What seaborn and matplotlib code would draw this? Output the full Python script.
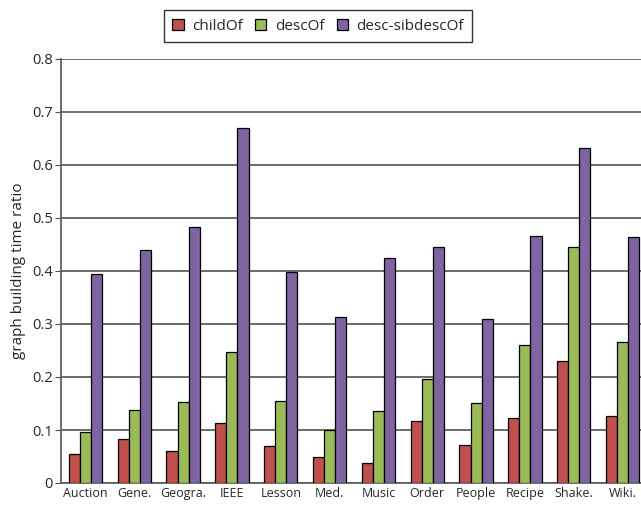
import pandas as pd
import matplotlib
matplotlib.use('Agg')
import matplotlib.pyplot as plt
import seaborn as sns
import numpy as np
from matplotlib.ticker import FixedLocator

# Dados
datasets = ['Auction', 'Gene.', 'Geogra.', 'IEEE', 'Lesson', 'Med.',
            'Music', 'Order', 'People', 'Recipe', 'Shake.', 'Wiki.']
child_of = [0.055, 0.083, 0.060, 0.113, 0.070, 0.049,
            0.038, 0.117, 0.072, 0.122, 0.230, 0.126]
desc_of = [0.096, 0.138, 0.153, 0.247, 0.155, 0.100,
           0.136, 0.196, 0.151, 0.260, 0.445, 0.266]
desc_sib = [0.394, 0.440, 0.483, 0.670, 0.398, 0.313,
            0.424, 0.445, 0.309, 0.466, 0.632, 0.464]
series = ['childOf', 'descOf', 'desc-sibdescOf']
cores = ['#C0504D', '#9BBB59', '#8064A2']

df = pd.DataFrame({
    'dataset': datasets * 3,
    'serie': np.repeat(series, len(datasets)),
    'ratio': child_of + desc_of + desc_sib,
})

sns.set_style('white')
plt.rcParams['font.family'] = ['Open Sans', 'DejaVu Sans']

fig = plt.figure(figsize=(6.41, 5.07), dpi=100)
ax = fig.add_axes([61 / 641, 24 / 507, 586 / 641, 424 / 507])

sns.barplot(data=df, x='dataset', y='ratio', hue='serie', order=datasets,
            hue_order=series, palette=cores, width=0.68, dodge=True,
            edgecolor='black', linewidth=0.9, saturation=1, ax=ax, zorder=3)

ax.set_ylim(0, 0.8)
ax.set_xlim(-0.5, len(datasets) - 0.5)
ax.set_yticks(np.arange(0, 0.81, 0.1))
ax.set_yticklabels(['0'] + ['%.1f' % v for v in np.arange(0.1, 0.81, 0.1)])
ax.yaxis.grid(True, color='#606060', linewidth=1.3, zorder=0)
ax.set_axisbelow(True)

# marcas entre grupos no eixo x
ax.xaxis.set_minor_locator(FixedLocator(np.arange(-0.5, len(datasets), 1)))
ax.tick_params(axis='x', which='minor', length=4, color='#505050', direction='out')
ax.tick_params(axis='x', which='major', length=0, labelsize=9, pad=3)
ax.tick_params(axis='y', length=4, color='#505050', direction='out', labelsize=10.5, pad=2, left=True)

for s in ['top', 'right']:
    ax.spines[s].set_visible(False)
for s in ['left', 'bottom']:
    ax.spines[s].set_color('#606060')
    ax.spines[s].set_linewidth(1.3)

ax.set_xlabel('')
ax.set_ylabel('graph building time ratio', fontsize=11, labelpad=4)

leg = ax.legend(loc='center', ncol=3, frameon=True,
                fancybox=False, edgecolor='black', fontsize=11,
                handlelength=0.75, handleheight=0.75, handletextpad=0.55,
                columnspacing=0.8, borderpad=0.55)
leg.get_frame().set_linewidth(1.0)
leg.set_bbox_to_anchor((318 / 641, 1 - 26 / 507), transform=fig.transFigure)

plt.savefig('out.png', dpi=100)
plt.close()
